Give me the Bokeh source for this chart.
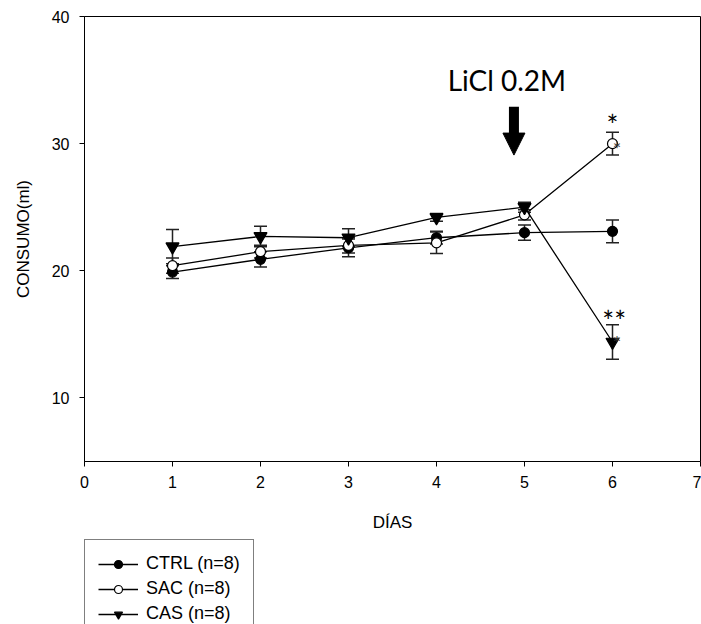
from bokeh.plotting import figure
from bokeh.layouts import column
from bokeh.models import (ColumnDataSource, Range1d, FixedTicker, Whisker, TeeHead,
                          Label, Arrow, NormalHead, Legend, LegendItem)
from bokeh.embed import file_html
from bokeh.resources import INLINE

# ---- data ----
days = [1, 2, 3, 4, 5, 6]
ctrl = [19.9, 20.9, 21.8, 22.6, 23.0, 23.1]
ctrl_err = [0.5, 0.6, 0.7, 0.5, 0.6, 0.9]
sac = [20.4, 21.5, 22.0, 22.2, 24.4, 30.0]
sac_err = [0.6, 0.5, 0.6, 0.85, 0.4, 0.9]
cas = [21.9, 22.7, 22.6, 24.2, 25.0, 14.4]
cas_err = [1.35, 0.8, 0.7, 0.3, 0.4, 1.35]

series_labels = ["CTRL (n=8)", "SAC (n=8)", "CAS (n=8)"]
x_ticks = [0, 1, 2, 3, 4, 5, 6, 7]
y_ticks = [10, 20, 30, 40]

AXIS_FONT = "Liberation Sans"
NOTE_FONT = "Lato"

p = figure(width=701, height=539, output_backend="svg", toolbar_location=None,
           x_range=Range1d(0, 7), y_range=Range1d(5, 40),
           min_border_left=84, min_border_right=1, min_border_top=16,
           min_border_bottom=78)
p.background_fill_color = "white"
p.border_fill_color = "white"
p.outline_line_color = "black"
p.outline_line_width = 1
p.xgrid.visible = False
p.ygrid.visible = False

for ax in (p.xaxis[0], p.yaxis[0]):
    ax.axis_line_color = "black"
    ax.axis_line_width = 1
    ax.major_tick_line_color = "black"
    ax.major_tick_out = 5
    ax.major_tick_in = 0
    ax.minor_tick_line_color = None
    ax.major_label_text_font = AXIS_FONT
    ax.major_label_text_font_size = "16px"
    ax.major_label_text_color = "black"
    ax.axis_label_text_font = AXIS_FONT
    ax.axis_label_text_font_size = "17px"
    ax.axis_label_text_font_style = "normal"
    ax.axis_label_text_color = "black"

p.xaxis.ticker = FixedTicker(ticks=x_ticks)
p.yaxis.ticker = FixedTicker(ticks=y_ticks)
p.xaxis.axis_label = "DÍAS"
p.yaxis.axis_label = "CONSUMO(ml)"
p.xaxis.major_label_standoff = 9
p.xaxis.axis_label_standoff = 22
p.yaxis.major_label_standoff = 10
p.yaxis.axis_label_standoff = 16

# small figure that only carries the legend
lf = figure(width=701, height=85, output_backend="svg", toolbar_location=None,
            x_range=Range1d(100, 101), y_range=Range1d(100, 101),
            min_border_left=83, min_border_right=0, min_border_top=0,
            min_border_bottom=0)
lf.axis.visible = False
lf.grid.visible = False
lf.outline_line_color = None
lf.background_fill_color = "white"
lf.border_fill_color = "white"

legend_items = []
specs = [
    (ctrl, ctrl_err, "circle", 10, "black"),
    (sac, sac_err, "circle", 10, "white"),
    (cas, cas_err, "inverted_triangle", 13, "black"),
]
for i, (vals, errs, marker, size, fill) in enumerate(specs):
    src = ColumnDataSource(dict(
        x=days, y=vals,
        lo=[v - e for v, e in zip(vals, errs)],
        hi=[v + e for v, e in zip(vals, errs)]))
    w = Whisker(source=src, base="x", upper="hi", lower="lo",
                line_color="#222222", line_width=1.5,
                upper_head=TeeHead(size=13, line_color="#222222", line_width=1.5),
                lower_head=TeeHead(size=13, line_color="#222222", line_width=1.5))
    p.add_layout(w)
    p.line("x", "y", source=src, line_color="black", line_width=1.3)
    p.scatter("x", "y", source=src, marker=marker, size=size,
              fill_color=fill, line_color="black", line_width=1.2)
    # legend proxies (same data, outside the legend figure's view)
    lr = lf.line("x", "y", source=src, line_color="black", line_width=1.3)
    sr = lf.scatter("x", "y", source=src, marker=marker, size=size,
                    fill_color=fill, line_color="black", line_width=1.2)
    legend_items.append(LegendItem(label=series_labels[i], renderers=[lr, sr]))

# significance marks
p.add_layout(Label(x=6, y=31.5, text="*", text_font=NOTE_FONT,
                   text_font_size="28px", text_align="center",
                   text_baseline="alphabetic", text_color="black"))
p.add_layout(Label(x=6.02, y=16.05, text="**", text_font=NOTE_FONT,
                   text_font_size="28px", text_align="center",
                   text_baseline="alphabetic", text_color="black"))
for yv in (sac[5], cas[5] + 0.3):
    p.add_layout(Label(x=6.05, y=yv, text="*", text_font=NOTE_FONT,
                       text_font_size="20px", text_align="center",
                       text_baseline="middle", y_offset=-4, text_color="#333333"))

# LiCl annotation with arrow
p.add_layout(Label(x=4.8, y=35.0, text="LiCl 0.2M", text_font=NOTE_FONT,
                   text_font_size="28px", text_align="center",
                   text_baseline="middle", text_color="black"))
p.add_layout(Arrow(x_start=4.88, y_start=32.9, x_end=4.88, y_end=29.1,
                   line_width=10, line_color="black",
                   end=NormalHead(size=22, fill_color="black", line_color="black")))

legend = Legend(items=legend_items, location="top_left", orientation="vertical",
                border_line_color="black", border_line_width=1,
                background_fill_color="white", background_fill_alpha=1,
                padding=13, spacing=4, margin=0,
                glyph_width=40, glyph_height=20, label_height=20,
                label_standoff=8,
                label_text_font=AXIS_FONT, label_text_font_size="18px",
                label_text_color="black")
lf.add_layout(legend)

layout = column(p, lf, spacing=0)
open("out.html", "w").write(file_html(layout, INLINE))
